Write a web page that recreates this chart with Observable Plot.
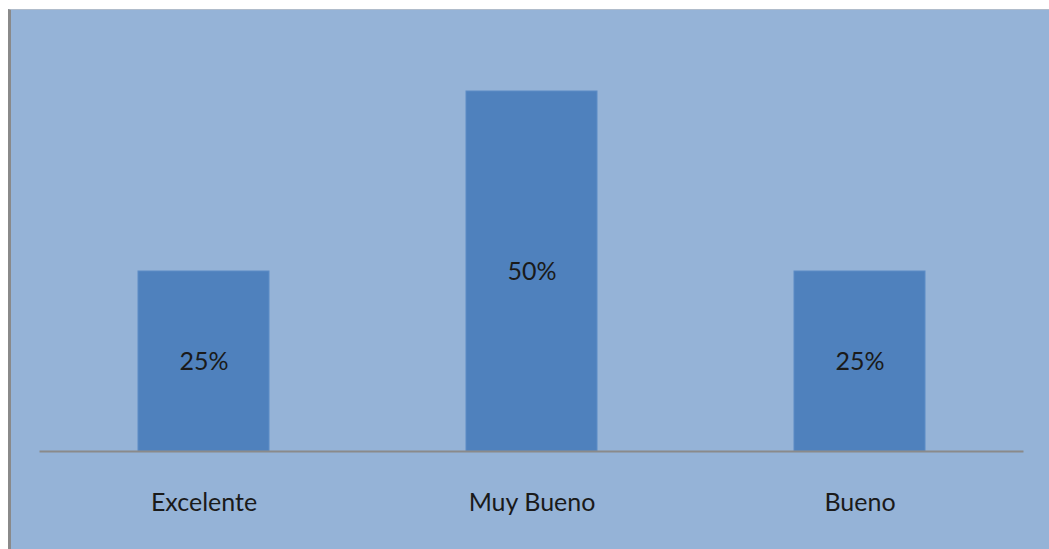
<!DOCTYPE html>
<html>
<head>
<meta charset="utf-8">
<script src="https://cdn.jsdelivr.net/npm/d3@7"></script>
<script src="https://cdn.jsdelivr.net/npm/@observablehq/plot@0.6"></script>
<style>
  html, body { margin: 0; padding: 0; background: #ffffff; }
  #panel {
    position: absolute; left: 8px; top: 9px;
    width: 1038px; height: 540px;
    background: #95B3D7;
    border-left: 3px solid #8a8a8a;
    border-top: 1px solid #b0bccb;
  }
</style>
</head>
<body>
<div id="panel"></div>
<script>
const categories = ["Excelente", "Muy Bueno", "Bueno"];
const values = [0.25, 0.50, 0.25];
const valueLabels = ["25%", "50%", "25%"];

const data = categories.map((c, i) => ({category: c, value: values[i], label: valueLabels[i]}));

const chart = Plot.plot({
  width: 1038,
  height: 539,
  marginLeft: 28.5,
  marginRight: 25.5,
  marginTop: 81,
  marginBottom: 98,
  style: {background: "transparent", fontFamily: "Lato", fontSize: "25px", color: "#1a1a1a"},
  x: {domain: categories, paddingInner: 0.6, paddingOuter: 0.3, label: null},
  y: {domain: [0, 0.5], axis: null},
  marks: [
    Plot.barY(data, {x: "category", y: "value", fill: "#4F81BD", stroke: "#5d8cc6", strokeWidth: 1}),
    Plot.ruleY([0], {stroke: "#8a8a8a", strokeWidth: 2}),
    Plot.text(data, {x: "category", y: d => d.value / 2, text: "label", fill: "#1a1a1a", fontSize: 25}),
    Plot.axisX({tickSize: 0, tickPadding: 42, fontSize: 25, fill: "#1a1a1a", label: null})
  ]
});
document.getElementById("panel").appendChild(chart);
</script>
</body>
</html>
